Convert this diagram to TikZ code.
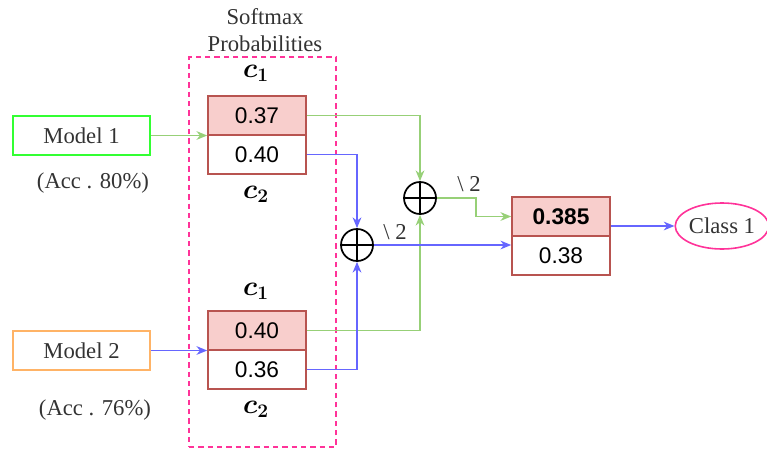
\documentclass[tikz,border=0pt]{standalone}
\usepackage{fontspec}
\setmainfont{Liberation Serif}
\newfontfamily\numfont{Liberation Sans}
\usetikzlibrary{arrows.meta, shapes.geometric}

\definecolor{cellfill}{HTML}{F8CECC}
\definecolor{cellline}{HTML}{B85450}
\definecolor{greenline}{HTML}{97D077}
\definecolor{blueline}{HTML}{6666FF}
\definecolor{pinkline}{HTML}{FF3399}
\definecolor{modelgreen}{HTML}{33FF33}
\definecolor{modelorange}{HTML}{FFB366}
\definecolor{txtgrey}{HTML}{333333}

\begin{document}
\fontsize{17}{20}\selectfont
\begin{tikzpicture}[x=0.75pt, y=-0.75pt, thick, >={Stealth[length=8pt, width=6.5pt, inset=2.5pt]},
    probtop/.style={draw=cellline, fill=cellfill, line width=1.2pt, minimum width=73.5pt, minimum height=29.25pt, inner sep=0pt, font=\numfont},
    probbot/.style={draw=cellline, fill=white, line width=1.2pt, minimum width=73.5pt, minimum height=29.25pt, inner sep=0pt, font=\numfont},
    modelbox/.style={draw, line width=1.2pt, minimum width=102.75pt, minimum height=29.25pt, inner sep=0pt, text=txtgrey},
    classlabel/.style={font=\fontsize{20}{22}\selectfont\boldmath},
    sumnode/.style={circle, draw, line width=1.3pt, minimum size=24pt, inner sep=0pt,
        path picture={\draw[line width=1.3pt] (path picture bounding box.north) -- (path picture bounding box.south)
            (path picture bounding box.west) -- (path picture bounding box.east);}},
    greenarrow/.style={->, greenline, line width=1.3pt},
    bluearrow/.style={->, blueline, line width=1.3pt}]

    \useasboundingbox (0,0) rectangle (767,450);

    % softmax frame
    \node[draw=pinkline, dash pattern=on 4pt off 3pt, line width=1.1pt, minimum width=110.25pt, minimum height=292.5pt] (softbox) at (262.5,252) {};
    \node[align=center, text=txtgrey] (softtitle) at (265,30) {Softmax\\Probabilities};

    % models
    \node[modelbox, draw=modelgreen] (model1) at (81.5,135.5) {Model 1};
    \node[text=txtgrey] (acc1) at (93,183) {(Acc . 80\%)};
    \node[modelbox, draw=modelorange] (model2) at (81.5,350.5) {Model 2};
    \node[text=txtgrey] (acc2) at (95,410) {(Acc . 76\%)};

    % probabilities
    \node[probtop] (p1a) at (257,115.5) {0.37};
    \node[probbot] (p1b) at (257,154.5) {0.40};
    \node[classlabel] (c1a) at (256,73) {$c_1$};
    \node[classlabel] (c2a) at (256,194) {$c_2$};

    \node[probtop] (p2a) at (257,330.5) {0.40};
    \node[probbot] (p2b) at (257,369.5) {0.36};
    \node[classlabel] (c1b) at (256,291) {$c_1$};
    \node[classlabel] (c2b) at (256,409) {$c_2$};

    % sums
    \node[sumnode] (sum1) at (420,198) {};
    \node[sumnode] (sum2) at (357,245) {};
    \node[text=txtgrey] (half1) at (469,184) {\textbackslash\ 2};
    \node[text=txtgrey] (half2) at (395,232) {\textbackslash\ 2};

    % result
    \node[probtop, font=\numfont\bfseries] (res1) at (561,216.5) {0.385};
    \node[probbot] (res2) at (561,255.5) {0.38};
    \node[ellipse, draw=pinkline, line width=1.2pt, minimum width=66pt, minimum height=34.5pt, inner sep=0pt, text=txtgrey] (class) at (722,226) {Class 1};

    \draw[greenarrow] (model1.east) -- (model1.east -| p1b.north west);
    \draw[bluearrow] (model2.east) -- (model2.east -| p2b.north west);
    \draw[greenarrow] (p1a.east) -| (sum1.north);
    \draw[greenarrow] (p2a.east) -| (sum1.south);
    \draw[bluearrow] (p1b.east) -| (sum2.north);
    \draw[bluearrow] (p2b.east) -| (sum2.south);
    \draw[greenarrow] (sum1.east) -- ++(39,0) |- (res1.west);
    \draw[bluearrow] (sum2.east) -- (res2.west |- sum2.east);
    \draw[bluearrow] (class.west -| res1.east) -- (class.west);
\end{tikzpicture}
\end{document}
